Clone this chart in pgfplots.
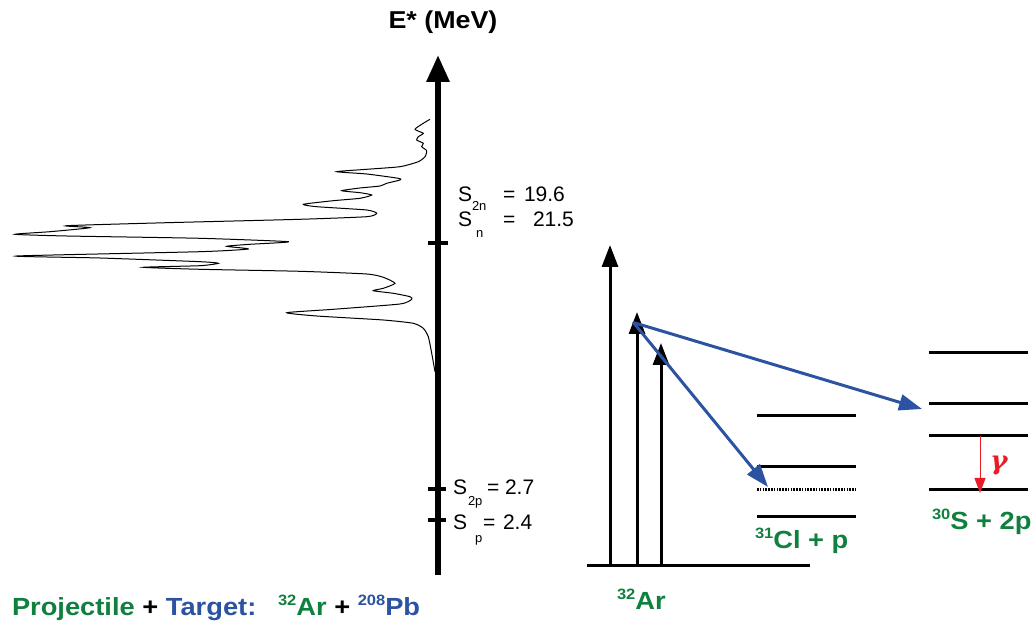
\documentclass[border=0pt]{standalone}
\usepackage{pgfplots}
\pgfplotsset{compat=1.18}
\usepackage{fontspec}
\setmainfont{Liberation Sans}
\newfontfamily\widefont[FakeStretch=1.1]{Liberation Sans}
\newfontfamily\gfont{DejaVu Serif}
\usetikzlibrary{arrows.meta}
\definecolor{pgreen}{RGB}{16,128,62}
\definecolor{pblue}{RGB}{44,82,162}
\definecolor{pred}{RGB}{232,28,36}
\newcommand{\isosup}[1]{\raisebox{0.8ex}{\fontsize{7.5}{8}\selectfont #1}}
\newcommand{\mylab}{\fontsize{10.5}{12}\selectfont}
\newcommand{\mysub}{\fontsize{6.5}{7}\selectfont}
\newcommand{\mybig}{\fontsize{12.4}{15}\selectfont\widefont\bfseries}
\begin{document}
\begin{tikzpicture}
\begin{axis}[
  width=516.5pt, height=312.5pt, scale only axis,
  xmin=0, xmax=1033, ymin=0, ymax=625, y dir=reverse,
  axis lines=none, clip=false, no markers]
% spectrum
\addplot[black, line width=0.5pt, smooth, tension=0.35] coordinates {
(430,119.3) (423.3,123.3) (415,129.3) (423.3,133.3) (418.3,136.7) (416.7,140)
(423.3,143.3) (421.7,146.7) (426.7,150.7) (425,156.7) (418.3,161.7) (400,166.7)
(366.7,169.3) (336.7,171.7) (366.7,174) (398.3,178.3) (400,180) (386.7,183.3)
(380,186) (360,188) (341.7,190.7) (360,192.7) (371.7,195) (360,198.3)
(333.3,200.7) (303.3,204.3) (316.7,206.7) (366.7,210) (376.7,213.3) (366.7,216.7)
(300,219.3) (166.7,222.7) (66.7,225.7) (90,227.7) (50,231.7) (15,234.3)
(66.7,236) (200,238.3) (288.3,241.7) (250,244.3) (226.7,246.3) (248.3,249)
(200,251.7) (16.7,256) (100,258) (200,261.7) (218.3,263.3) (200,265.7)
(143.3,267.3) (200,269.3) (300,271.3) (366.7,274) (383.3,277.3) (395,283.3)
(383.3,288.3) (373.3,290.7) (393.3,293.3) (410,296.7) (411.7,299.3) (400,304)
(333.3,309.3) (286.7,312.7) (316.7,316) (383.3,320) (413.3,323.3) (423.3,328.3)
(428.3,336.7) (431.7,353.3) (435,371.7)};
% main energy axis
\addplot[black, line width=3pt, -{Triangle[length=13.5pt,width=11pt]}] coordinates {(438,575) (438,55)};
\addplot[black, line width=2.2pt] coordinates {(428,243) (448,243)};
\addplot[black, line width=2.2pt] coordinates {(428,489) (446,489)};
\addplot[black, line width=2.2pt] coordinates {(428,520) (446,520)};
% excitation arrows
\addplot[black, line width=1.5pt] coordinates {(587,566) (810,566)};
\addplot[black, line width=1.5pt, -{Triangle[length=11pt,width=8pt]}] coordinates {(610,566) (610,245)};
\addplot[black, line width=1.5pt, -{Triangle[length=11pt,width=8pt]}] coordinates {(637,566) (637,312)};
\addplot[black, line width=1.5pt, -{Triangle[length=11pt,width=8pt]}] coordinates {(661,566) (661,343)};
% 31Cl levels
\addplot[black, line width=1.5pt] coordinates {(757,416) (856,416)};
\addplot[black, line width=1.5pt] coordinates {(757,467) (856,467)};
\addplot[black, line width=1.5pt, dash pattern=on 0.8pt off 0.6pt] coordinates {(757,490) (856,490)};
\addplot[black, line width=1.5pt] coordinates {(757,517) (856,517)};
% 30S levels
\addplot[black, line width=1.5pt] coordinates {(929,353) (1028,353)};
\addplot[black, line width=1.5pt] coordinates {(929,404) (1028,404)};
\addplot[black, line width=1.5pt] coordinates {(929,436) (1028,436)};
\addplot[black, line width=1.5pt] coordinates {(929,490) (1028,490)};
% decay arrows
\addplot[pblue, line width=1.5pt, -{Triangle[length=11.5pt,width=8pt]}] coordinates {(635,323) (922,409)};
\addplot[pblue, line width=1.5pt, -{Triangle[length=11.5pt,width=8pt]}] coordinates {(633,322) (768,487)};
\addplot[pred, line width=0.5pt, -{Triangle[length=7.5pt,width=5.5pt]}] coordinates {(980,436) (980,493)};
\end{axis}
% texts, in the same pixel frame as the axis
\begin{scope}[x=0.5pt, y=-0.5pt, shift={(0pt,312.5pt)}, every node/.style={inner sep=0pt, outer sep=0pt}]
\node[anchor=base] at (443,29) {\fontsize{12.2}{15}\selectfont\widefont\bfseries E* (MeV)};
\node[anchor=base west] at (458,202) {\mylab S};
\node[anchor=base west] at (472,211) {\mysub 2n};
\node[anchor=base west] at (503,202) {\mylab =};
\node[anchor=base west] at (524,202) {\mylab 19.6};
\node[anchor=base west] at (458,227) {\mylab S};
\node[anchor=base west] at (476,238) {\mysub n};
\node[anchor=base west] at (503,227) {\mylab =};
\node[anchor=base west] at (533,227) {\mylab 21.5};
\node[anchor=base west] at (453,495) {\mylab S};
\node[anchor=base west] at (468,506) {\mysub 2p};
\node[anchor=base west] at (487,495) {\mylab =};
\node[anchor=base west] at (505,495) {\mylab 2.7};
\node[anchor=base west] at (453,530) {\mylab S};
\node[anchor=base west] at (475,543) {\mysub p};
\node[anchor=base west] at (483,530) {\mylab =};
\node[anchor=base west] at (503,530) {\mylab 2.4};
\node[anchor=center, text=pred] at (999,465) {\fontsize{13}{14}\selectfont\gfont\bfseries\itshape γ};
\node[anchor=base west, text=pgreen] at (755,549) {\mybig \isosup{31}Cl + p};
\node[anchor=base west, text=pgreen] at (932,530) {\mybig \isosup{30}S + 2p};
\node[anchor=base west, text=pgreen] at (617,610) {\mybig \isosup{32}Ar};
\node[anchor=base west] at (12,616) {\mybig \textcolor{pgreen}{Projectile} + \textcolor{pblue}{Target:}};
\node[anchor=base west] at (278,616) {\mybig \textcolor{pgreen}{\isosup{32}Ar} + \textcolor{pblue}{\isosup{208}Pb}};
\end{scope}
\pgfresetboundingbox
\path[use as bounding box] (0,0) rectangle (516.5pt,312.5pt);
\end{tikzpicture}
\end{document}
